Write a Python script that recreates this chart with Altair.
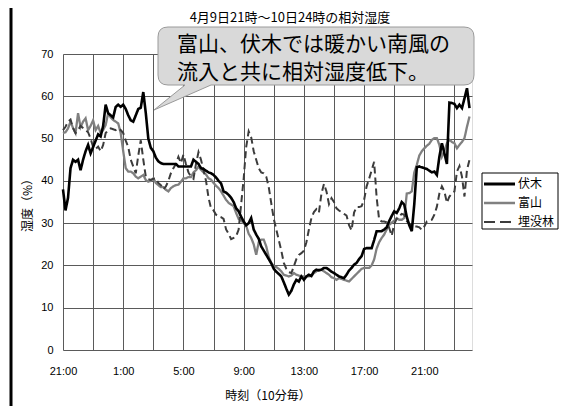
import altair as alt
import pandas as pd

SERIES = ["伏木", "富山", "埋没林"]
COLORS = ["#000000", "#808080", "#3c3c3c"]
WIDTHS = [2.6, 2.0, 1.7]
DASHES = [[1, 0], [1, 0], [7, 4]]
LEGEND_DASHES = [[1, 0], [1, 0], [11, 5]]

TICK_POS = [0, 24, 48, 72, 96, 120, 144]
TICK_LABELS = ["21:00", "1:00", "5:00", "9:00", "13:00", "17:00", "21:00"]
GRID_POS = list(range(0, 157, 12))

FUSHIKI = [
    38, 33, 36, 43, 45, 44.5, 45, 42.5, 45, 47, 48.5, 46.5,
    48, 49.5, 51, 50.5, 53, 58, 56, 55.5, 55, 57.5, 58, 57.5,
    58, 57, 55.5, 54.3, 54, 55.5, 57, 57.3, 61, 56, 50, 47.8,
    47, 45.5, 44.6, 44.2, 44, 44, 44, 44, 44, 44, 43.4, 43.4,
    43.4, 43.4, 43.4, 43.4, 45, 44.5, 44, 43, 42.8, 42.4, 42, 41.8,
    41.4, 40.8, 40, 39.4, 37.5, 37.2, 36.7, 36, 35, 33.5, 32.8, 31.5,
    30.4, 29.5, 30, 31.2, 28.5, 27.3, 26.3, 24.5, 23.5, 22.5, 21.5, 20.5,
    19.2, 18.5, 18, 17.4, 16, 14.5, 13.1, 14, 15.5, 16.6, 16.2, 17.4,
    16.6, 17.4, 17.8, 17.5, 18.6, 19, 18.8, 19, 19.4, 19.4, 19, 18.5,
    18.2, 17.8, 17.4, 17.2, 17, 17.8, 18.8, 19.4, 20.2, 20.6, 21.5, 22.2,
    23.9, 24.1, 24.1, 24.1, 26, 28.1, 28.1, 28.1, 28.5, 29, 30.5, 31.7,
    32.8, 32.4, 33.5, 35, 34.4, 31.5, 29.5, 28.1, 34.5, 43.2, 43.4, 43.2,
    43, 42.8, 42.4, 42, 42.2, 41.4, 45.7, 48.9, 46.5, 44, 58.5, 58.4,
    58.2, 57.2, 58, 57.2, 59.5, 61.9, 57.2,
]

TOYAMA = [
    51.3, 51.5, 52.4, 54, 52.5, 51.3, 56, 52.7, 54, 54.8, 52, 53,
    54.3, 52, 53, 51.3, 52, 53.2, 56, 55, 54.4, 54, 53.6, 51.3,
    47, 43, 42.2, 42.2, 41.8, 41, 40.6, 41, 41.4, 40.2, 39.8, 40,
    40.6, 39.5, 39, 38.5, 38.5, 37.9, 37.5, 38.3, 38.7, 39, 39.1, 39.8,
    40.6, 40.6, 40.9, 40.9, 42, 42.5, 43.4, 42.6, 42, 41.5, 40.6, 40.3,
    39.5, 38.8, 38.3, 37.5, 36.5, 35.5, 34.8, 34.4, 34, 32.4, 31, 30.6,
    30, 29.4, 27.5, 26.5, 25, 22.5, 25.5, 26.1, 26.1, 24.5, 22, 20.6,
    19.8, 19.6, 19.2, 18.6, 17.8, 17.6, 17.4, 17.6, 18.2, 17.8, 17.6, 17.4,
    17.4, 17.4, 17.4, 17.6, 18.2, 18.6, 19, 19, 18.6, 18.2, 17.8, 17.2,
    17, 16.6, 17, 16.8, 16.6, 16.4, 16.2, 16.8, 17.4, 18, 18.6, 19.2,
    19.4, 19.4, 19.4, 20, 21.4, 24, 25.5, 26.5, 27.3, 28.5, 29.6, 30.1,
    30.6, 31.2, 30.8, 30.8, 31.2, 37, 37.1, 37.5, 42, 43.8, 46, 47,
    47.7, 48.3, 48.8, 49.7, 50.1, 50.1, 48.5, 45.7, 47, 48.9, 49.7, 49.2,
    48.9, 47.7, 48.5, 49.2, 50.1, 52.8, 55.2,
]

MAIBOTSU = [
    52, 52.8, 54, 54.5, 52.5, 51.3, 52, 53, 52.5, 52, 51.5, 50,
    48, 47.5, 48.1, 47, 48.5, 51.3, 52, 52.4, 52.2, 52, 52.4, 52,
    51.3, 49.5, 48, 45, 43.4, 41.8, 46, 49.6, 45, 41, 40.4, 40.2,
    40.5, 40.6, 39.5, 39, 38, 38.7, 40, 41.8, 43, 44, 45.7, 44.2,
    46.2, 44, 42, 41, 40.5, 44, 46.8, 45, 42.5, 40, 36, 33.5,
    33, 32, 31.6, 31.4, 31, 28.5, 27.5, 26.2, 26.5, 26.9, 28.5, 34.5,
    40.5, 48, 51.7, 50.3, 47, 45, 43, 42, 41.8, 41, 38.5, 34.7,
    31, 28.5, 26, 23.5, 20.6, 19.2, 18.4, 18.2, 19.8, 21.5, 22.5, 22.9,
    23.5, 25.5, 28.5, 31.2, 32.6, 33.3, 32.5, 37, 39.3, 37.5, 34.5, 35.9,
    35, 33.5, 33, 32.6, 32.2, 31.8, 29.5, 28.3, 32.5, 33.8, 33.8, 34,
    35.5, 38.7, 40.5, 42.5, 44.5, 36, 30.8, 30.4, 30.4, 30.2, 28.9, 27,
    29.8, 31, 31.6, 32.2, 32, 30.5, 29.8, 29.4, 29.2, 29.2, 29, 28.4,
    29.2, 30.4, 30.6, 30.8, 32, 33.9, 37, 38.7, 37.5, 34.8, 36.3, 37,
    37.5, 42.2, 43.5, 41, 36.3, 42.6, 45,
]

TITLE = "4月9日21時～10日24時の相対湿度"
X_TITLE = "時刻（10分毎）"
Y_TITLE = "湿度（%）"
CALLOUT = ["富山、伏木では暖かい南風の", "流入と共に相対湿度低下。"]

JP = "Noto Sans CJK JP"
LAT = "Liberation Sans"
W, H = 409, 296

rows = []
for name, vals in [("富山", TOYAMA), ("埋没林", MAIBOTSU), ("伏木", FUSHIKI)]:
    for i, v in enumerate(vals):
        rows.append({"idx": i, "value": v, "series": name})
df = pd.DataFrame(rows)

label_expr = "''"
for p, l in reversed(list(zip(TICK_POS, TICK_LABELS))):
    label_expr = f"datum.value == {p} ? '{l}' : ({label_expr})"

lines = alt.Chart(df).mark_line().encode(
    x=alt.X(
        "idx:Q",
        scale=alt.Scale(domain=[0, 163], nice=False, zero=False),
        axis=alt.Axis(
            values=GRID_POS, labelExpr=label_expr, title=X_TITLE,
            grid=True, gridColor="#5a5a5a", gridWidth=1, ticks=False, tickSize=0,
            domain=False, labelFont=LAT, labelFontSize=11, labelColor="#000",
            labelPadding=15, titleFont=JP, titleFontSize=12, titleFontWeight="normal",
            titleColor="#000", titlePadding=14, labelFlush=False,
        ),
    ),
    y=alt.Y(
        "value:Q",
        scale=alt.Scale(domain=[0, 70], nice=False),
        axis=alt.Axis(
            values=list(range(0, 71, 10)), title=Y_TITLE,
            grid=True, gridColor="#5a5a5a", gridWidth=1, ticks=False, tickSize=0,
            domain=False, labelFont=LAT, labelFontSize=11, labelColor="#000",
            labelPadding=10, titleFont=JP, titleFontSize=12, titleFontWeight="normal",
            titleColor="#000", titlePadding=6,
        ),
    ),
    color=alt.Color("series:N", scale=alt.Scale(domain=SERIES, range=COLORS), legend=None),
    strokeDash=alt.StrokeDash("series:N", scale=alt.Scale(domain=SERIES, range=DASHES), legend=None),
    strokeWidth=alt.StrokeWidth("series:N", scale=alt.Scale(domain=SERIES, range=WIDTHS), legend=None),
    detail="series:N",
)

one = pd.DataFrame({"k": [0]})
layers = [lines]

# outer frame (left edge)
layers.append(alt.Chart(one).mark_rule(color="#000", strokeWidth=3).encode(
    x=alt.value(-52), y=alt.value(-46), y2=alt.value(H + 56)
))

# chart title
layers.append(alt.Chart(one).mark_text(
    text=TITLE, align="center", baseline="middle", font=JP, fontSize=13, color="#000",
).encode(x=alt.value(227), y=alt.value(-36)))

# callout bubble
callout_path = (
    "M 105 -27 L 401 -27 Q 411 -27 411 -17 L 411 21 Q 411 31 401 31 "
    "L 148 31 L 91 56 L 122 31 L 105 31 Q 95 31 95 21 L 95 -17 Q 95 -27 105 -27 Z"
)
layers.append(alt.Chart(one).mark_point(
    shape=callout_path, size=4, filled=True, fill="#d9d9d9", stroke="#9a9a9a",
    strokeWidth=1, opacity=1, fillOpacity=1,
).encode(x=alt.value(0), y=alt.value(0)))
for k, line in enumerate(CALLOUT):
    layers.append(alt.Chart(one).mark_text(
        text=line, align="left", baseline="middle", font=JP, fontSize=21, color="#000",
    ).encode(x=alt.value(114), y=alt.value(-9.5 + 28 * k)))

# legend box
LX, LY = 419, 119
layers.append(alt.Chart(one).mark_rect(fill="#ffffff", stroke="#000", strokeWidth=1).encode(
    x=alt.value(LX), x2=alt.value(495), y=alt.value(LY), y2=alt.value(LY + 56)
))
for k, name in enumerate(SERIES):
    yy = LY + 11 + 19 * k
    layers.append(alt.Chart(one).mark_rule(
        color=COLORS[k], strokeWidth=WIDTHS[k] + 0.4, strokeDash=LEGEND_DASHES[k],
    ).encode(x=alt.value(LX + 2), x2=alt.value(LX + 33), y=alt.value(yy)))
    layers.append(alt.Chart(one).mark_text(
        text=name, align="left", baseline="middle", font=JP, fontSize=12, color="#000",
    ).encode(x=alt.value(LX + 36), y=alt.value(yy)))

chart = alt.layer(*layers).properties(
    width=W, height=H,
    padding={"left": 55, "top": 46, "right": 87, "bottom": 56},
    autosize=alt.AutoSizeParams(type="none"),
).configure_view(
    fill="#c0c0c0", stroke="#8c8c8c", strokeWidth=1.5
).configure(background="#ffffff")

chart.save("out.html", embed_options={"renderer": "svg", "actions": False})
